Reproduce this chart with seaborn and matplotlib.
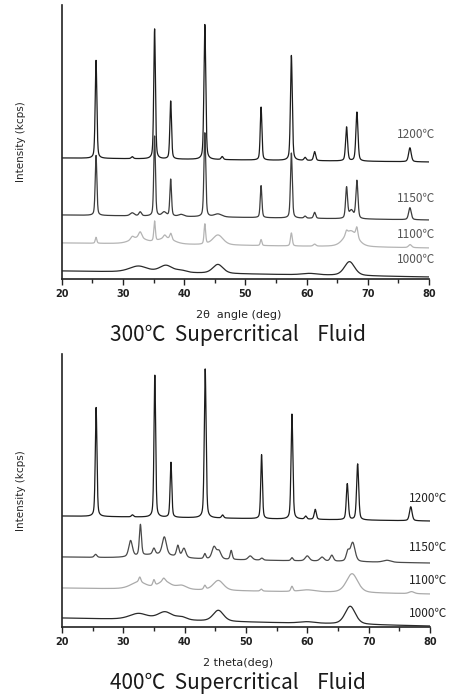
import numpy as np
import pandas as pd
import matplotlib
matplotlib.use("Agg")
import matplotlib.pyplot as plt
from matplotlib.ticker import MultipleLocator
import seaborn as sns

# ---------------- data (intensity in arbitrary units) ----------------
two_theta_range = [20, 80]
temps = ["1200℃", "1150℃", "1100℃", "1000℃"]

# corundum reflections (1200 C patterns)
alpha_pos = [25.58, 31.5, 35.15, 37.78, 43.36, 46.2, 52.55, 57.50, 59.74, 61.30, 66.52, 68.21, 76.87]
alpha_w = [0.32, 0.4, 0.32, 0.32, 0.35, 0.4, 0.32, 0.35, 0.4, 0.4, 0.38, 0.4, 0.5]

# ---- 300 C supercritical fluid panel ----
s300_1200_base = [121, 117]
s300_1200_h = [98, 2, 130, 58, 135, 3, 53, 105, 3, 9, 34, 49, 14]

s300_1150_base = [64, 59]
s300_1150_pos = [25.58, 31.5, 32.8, 35.15, 36.7, 37.78, 39.5, 43.36, 45.5, 52.55, 57.50, 59.74, 61.30, 66.52, 67.3, 68.21, 76.87]
s300_1150_h = [60, 3, 4, 80, 4, 37, 2, 84, 3, 32, 65, 2, 6, 31, 8, 38, 12]
s300_1150_w = [0.32, 0.8, 0.5, 0.32, 0.8, 0.32, 1.0, 0.35, 1.5, 0.32, 0.35, 0.4, 0.4, 0.38, 0.8, 0.4, 0.5]

s300_1100_base = [36, 31]
s300_1100_pos = [32.5, 37.0, 45.5, 67.2, 25.58, 31.5, 32.8, 35.15, 36.8, 37.8, 43.36, 52.55, 57.5, 61.3, 66.5, 68.2, 76.9]
s300_1100_h = [6, 6, 10, 16, 6, 3, 6, 20, 3, 6, 20, 6, 13, 2, 4, 10, 3]
s300_1100_w = [3.0, 3.0, 2.0, 2.5, 0.3, 0.6, 0.6, 0.3, 0.5, 0.4, 0.3, 0.3, 0.35, 0.5, 0.4, 0.4, 0.6]

s300_1000_base = [8, 2]
s300_1000_pos = [32.5, 37.0, 39.5, 45.5, 60.5, 67.0]
s300_1000_h = [6, 7, 2, 9, 1.5, 14]
s300_1000_w = [3.5, 2.5, 2.0, 2.0, 3.0, 2.0]

# ---- 400 C supercritical fluid panel ----
s400_1200_base = [111, 106]
s400_1200_h = [109, 2, 142, 55, 149, 3, 64, 105, 3, 10, 36, 56, 14]

s400_1150_base = [70, 64]
s400_1150_pos = [25.5, 31.2, 32.8, 35.0, 35.5, 36.7, 38.9, 39.9, 43.3, 44.8, 45.6, 47.6, 50.7, 52.6, 57.5, 60.0, 62.4, 64.0, 66.6, 67.4, 73.0]
s400_1150_h = [3, 16, 31, 6, 4, 18, 11, 9, 5, 12, 8, 9, 4, 2, 3, 5, 4, 6, 9, 19, 2]
s400_1150_w = [0.5, 0.7, 0.4, 0.5, 7.0, 0.8, 0.5, 0.7, 0.4, 0.8, 0.8, 0.4, 0.8, 0.5, 0.4, 0.8, 0.8, 0.6, 0.6, 0.9, 1.5]

s400_1100_base = [39, 33]
s400_1100_pos = [32.5, 36.7, 39.5, 45.5, 60.0, 67.3, 32.7, 35.0, 36.6, 43.3, 52.5, 57.5, 77.0]
s400_1100_h = [7, 8, 4, 10, 2, 19, 5, 6, 3, 4, 2, 5, 2]
s400_1100_w = [3.0, 2.5, 2.0, 2.0, 3.0, 2.2, 0.4, 0.4, 0.5, 0.4, 0.4, 0.4, 1.0]

s400_1000_base = [9, 1]
s400_1000_pos = [32.5, 36.8, 39.5, 45.5, 60.0, 67.0]
s400_1000_h = [6, 8, 3, 11, 1.5, 18]
s400_1000_w = [3.5, 2.8, 2.0, 2.0, 3.0, 2.0]

# ---------------- build pattern curves from the peak lists ----------------
tt = np.linspace(two_theta_range[0], two_theta_range[1], 6001)


def pattern(base, pos, h, w, eta=0.4):
    y = np.interp(tt, two_theta_range, base)
    for c, a, fw in zip(pos, h, w):
        d = (tt - c) / (fw / 2.0)
        lor = 1.0 / (1.0 + d ** 2)
        gau = np.exp(-np.log(2) * d ** 2)
        y = y + a * (eta * lor + (1 - eta) * gau)
    return y


panels = [
    dict(curves=[pattern(s300_1200_base, alpha_pos, s300_1200_h, alpha_w),
                 pattern(s300_1150_base, s300_1150_pos, s300_1150_h, s300_1150_w),
                 pattern(s300_1100_base, s300_1100_pos, s300_1100_h, s300_1100_w),
                 pattern(s300_1000_base, s300_1000_pos, s300_1000_h, s300_1000_w)],
         ylim=274, xlabel="2θ  angle (deg)", title="300℃  Supercritical    Fluid",
         label_y=[144, 80, 44, 19], label_x=74.8, label_color="#555555",
         colors=["#1c1c1c", "#3c3c3c", "#b4b4b4", "#2a2a2a"]),
    dict(curves=[pattern(s400_1200_base, alpha_pos, s400_1200_h, alpha_w),
                 pattern(s400_1150_base, s400_1150_pos, s400_1150_h, s400_1150_w),
                 pattern(s400_1100_base, s400_1100_pos, s400_1100_h, s400_1100_w),
                 pattern(s400_1000_base, s400_1000_pos, s400_1000_h, s400_1000_w)],
         ylim=273, xlabel="2 theta(deg)", title="400℃  Supercritical    Fluid",
         label_y=[129, 80, 47, 14], label_x=76.6, label_color="#222222",
         colors=["#1c1c1c", "#4a4a4a", "#aaaaaa", "#2a2a2a"]),
]

sns.set_style("white")
plt.rcParams["font.family"] = ["DejaVu Sans"]
cjk = ["Noto Sans CJK KR", "DejaVu Sans"]

fig = plt.figure(figsize=(4.55, 6.95), dpi=100)
axes_rects = [[0.136, 0.5986, 0.807, 0.3942], [0.136, 0.0978, 0.809, 0.3928]]
title_y = [0.518, 0.017]
xlabel_y = [0.547, 0.046]

for p, rect, ty, xy in zip(panels, axes_rects, title_y, xlabel_y):
    ax = fig.add_axes(rect)
    # draw in reverse so the top (1200) pattern sits over the others
    for name, y, col in reversed(list(zip(temps, p["curves"], p["colors"]))):
        df = pd.DataFrame({"two_theta": tt, "intensity": y})
        sns.lineplot(data=df, x="two_theta", y="intensity", ax=ax, color=col,
                     lw=0.9, estimator=None, sort=False)
    for name, ly in zip(temps, p["label_y"]):
        ax.text(p["label_x"], ly, name, fontsize=8.5, color=p["label_color"],
                family=cjk, ha="left", va="center", clip_on=False)
    ax.set_xlim(*two_theta_range)
    ax.set_ylim(0, p["ylim"])
    ax.set_xlabel("")
    ax.set_ylabel("Intensity (kcps)", fontsize=7.5, labelpad=26)
    ax.set_yticks([])
    ax.xaxis.set_major_locator(MultipleLocator(10))
    ax.xaxis.set_minor_locator(MultipleLocator(5))
    ax.tick_params(axis="x", which="major", direction="out", length=4, width=1,
                   bottom=True, labelsize=7, pad=3, colors="#222222")
    ax.tick_params(axis="x", which="minor", direction="out", length=3, width=1,
                   bottom=True)
    for lab in ax.get_xticklabels():
        lab.set_fontweight("bold")
    for s in ["top", "right"]:
        ax.spines[s].set_visible(False)
    for s in ["left", "bottom"]:
        ax.spines[s].set_linewidth(1.2)
        ax.spines[s].set_color("#222222")
    fig.text(0.524, xy, p["xlabel"], fontsize=8, ha="center", va="center",
             color="#222222")
    fig.text(0.524, ty, p["title"], fontsize=15, ha="center", va="center",
             family=cjk, color="#1a1a1a")

fig.savefig("out.png", dpi=100)
